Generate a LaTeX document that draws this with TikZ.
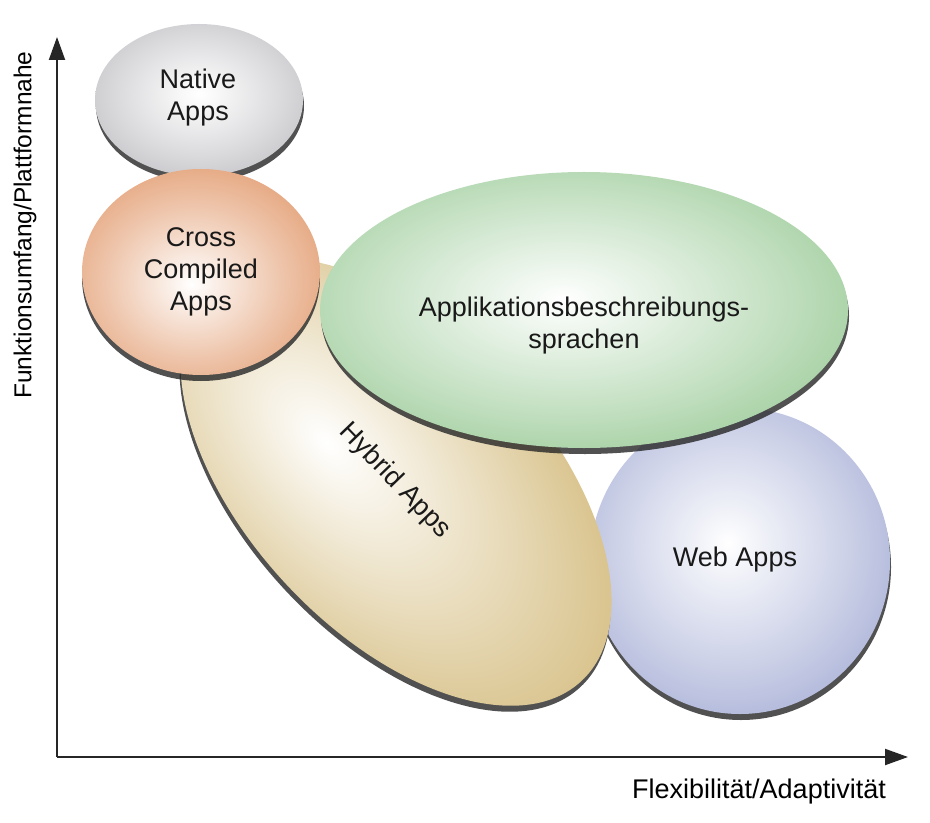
\documentclass[tikz,border=0pt]{standalone}
\usepackage{fontspec}
\setmainfont{Liberation Sans}
\usetikzlibrary{arrows.meta}
\definecolor{natc}{RGB}{172,172,178}
\definecolor{crc}{RGB}{222,142,92}
\definecolor{grc}{RGB}{130,190,126}
\definecolor{hyc}{RGB}{206,178,108}
\definecolor{wbc}{RGB}{146,156,204}
\pgfdeclareradialshading{natsh}{\pgfpoint{0bp}{2bp}}{color(0bp)=(white); color(4bp)=(natc!8!white); color(20bp)=(natc!45!white); color(34bp)=(natc!80!white); color(45bp)=(natc); color(50bp)=(natc!92!black); color(100bp)=(natc!92!black)}
\pgfdeclareradialshading{crsh}{\pgfpoint{-2bp}{-3bp}}{color(0bp)=(white); color(4bp)=(crc!12!white); color(18bp)=(crc!50!white); color(32bp)=(crc!85!white); color(44bp)=(crc); color(50bp)=(crc!94!black); color(100bp)=(crc!94!black)}
\pgfdeclareradialshading{grsh}{\pgfpoint{-2bp}{2bp}}{color(0bp)=(white); color(4bp)=(grc!10!white); color(20bp)=(grc!48!white); color(34bp)=(grc!85!white); color(45bp)=(grc); color(50bp)=(grc!94!black); color(100bp)=(grc!94!black)}
\pgfdeclareradialshading{hysh}{\pgfpoint{-7bp}{-4bp}}{color(0bp)=(white); color(4bp)=(hyc!10!white); color(20bp)=(hyc!50!white); color(34bp)=(hyc!85!white); color(45bp)=(hyc); color(50bp)=(hyc!92!black); color(100bp)=(hyc!92!black)}
\pgfdeclareradialshading{wbsh}{\pgfpoint{-2bp}{3bp}}{color(0bp)=(white); color(4bp)=(wbc!10!white); color(20bp)=(wbc!48!white); color(34bp)=(wbc!85!white); color(45bp)=(wbc); color(50bp)=(wbc!94!black); color(100bp)=(wbc!94!black)}
\tikzset{
  blob/.style={shade, shading=#1},
  shadowfill/.style={fill=black!85, opacity=0.8},
  lbl/.style={font=\fontsize{13.5}{16}\selectfont, align=center, text=black!90, inner sep=0pt},
  axisline/.style={line width=1pt, draw=black!85, -{Triangle[length=11.5pt,width=8pt]}},
}
\begin{document}
\begin{tikzpicture}[x=0.5pt,y=-0.5pt]
\useasboundingbox (0,0) rectangle (930,823);
% Web Apps
\fill[shadowfill] (741,567) ellipse [x radius=150, y radius=153];
\path[blob=wbsh] (740,561) ellipse [x radius=150, y radius=153];
% Hybrid Apps
\fill[shadowfill, rotate around={-47:(395,488)}] (395,488) ellipse [x radius=272, y radius=150];
\path[blob=hysh, transform canvas={rotate around={-47:(396,482)}}] (396,482) ellipse [x radius=272, y radius=150];
% Applikationsbeschreibungssprachen
\fill[shadowfill] (585,316) ellipse [x radius=264, y radius=138];
\path[blob=grsh] (584,310) ellipse [x radius=264, y radius=138];
% Native Apps
\fill[shadowfill] (200,106) ellipse [x radius=104, y radius=76];
\path[blob=natsh] (199,100) ellipse [x radius=104, y radius=76];
% Cross Compiled Apps
\fill[shadowfill] (201,278) ellipse [x radius=119, y radius=103];
\path[blob=crsh] (201,272) ellipse [x radius=119, y radius=103];
% labels
\node[lbl] (native) at (198,98) {Native\\Apps};
\node[lbl] (cross) at (201,272) {Cross\\Compiled\\Apps};
\node[lbl] (appl) at (584,326) {Applikationsbeschreibungs-\\sprachen};
\node[lbl, rotate=-46] (hybrid) at (395,481) {Hybrid Apps};
\node[lbl] (web) at (735,560) {Web Apps};
% axes
\coordinate (o) at (57,757);
\coordinate (ytip) at (57,37);
\coordinate (xtip) at (908,757);
\draw[axisline] (o) -- (ytip);
\draw[axisline] (o) -- (xtip);
\node[font=\fontsize{13.5}{16}\selectfont, inner sep=0pt] (xlab) at (759,792) {Flexibilität/Adaptivität};
\node[font=\fontsize{12.25}{15}\selectfont, rotate=90, inner sep=0pt] (ylab) at (25,225) {Funktionsumfang/Plattformnahe};
\end{tikzpicture}
\end{document}
